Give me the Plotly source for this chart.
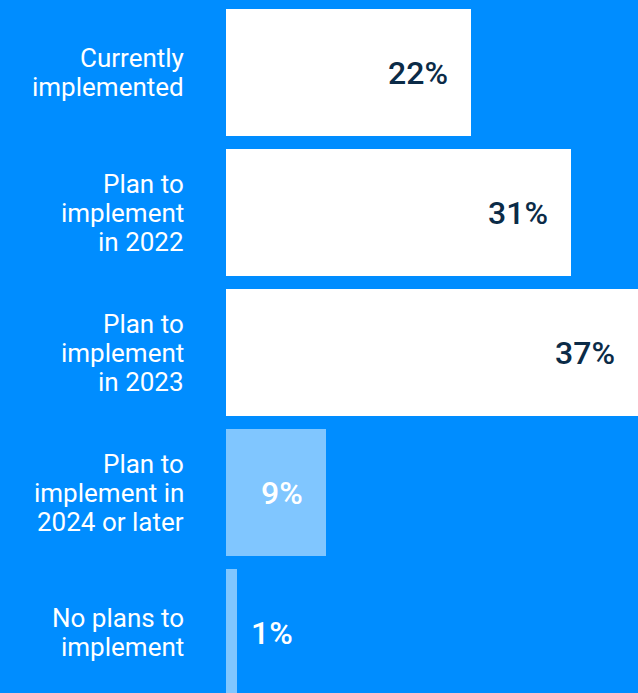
import plotly.graph_objects as go

categories = [
    "Currently<br>implemented",
    "Plan to<br>implement<br>in 2022",
    "Plan to<br>implement<br>in 2023",
    "Plan to<br>implement in<br>2024 or later",
    "No plans to<br>implement",
]
values = [22, 31, 37, 9, 1]
value_labels = ["22%", "31%", "37%", "9%", "1%"]

BG = "#008DFF"
WHITE = "#FFFFFF"
LIGHT = "#80C6FF"
NAVY = "#0B2B47"

bar_colors = [WHITE, WHITE, WHITE, LIGHT, LIGHT]
text_colors = [NAVY, NAVY, NAVY, WHITE, WHITE]

LINE_STEP = 29  # px between lines of a category label

fig = go.Figure(
    go.Bar(
        x=values,
        y=categories,
        orientation="h",
        marker=dict(color=bar_colors, line=dict(width=0)),
        width=0.907,
        hoverinfo="skip",
    )
)

# category labels, one annotation per line for tight line spacing
for cat in categories:
    lines = cat.split("<br>")
    n = len(lines)
    for i, line in enumerate(lines):
        fig.add_annotation(
            x=0,
            xref="paper",
            y=cat,
            yref="y",
            text=line,
            showarrow=False,
            xanchor="right",
            yanchor="middle",
            xshift=-40,
            yshift=((n - 1) / 2 - i) * LINE_STEP,
            font=dict(family="Roboto", size=26, color=WHITE),
        )

# value labels: inside near the bar end, or just outside for the tiny bar
for cat, v, lab, col in zip(categories, values, value_labels, text_colors):
    inside = v >= 5
    fig.add_annotation(
        x=v,
        y=cat,
        text=lab,
        showarrow=False,
        xanchor="right" if inside else "left",
        xshift=-21 if inside else 12,
        font=dict(family="Roboto", size=32, color=col, weight=500),
    )

fig.update_layout(
    width=638,
    height=693,
    margin=dict(l=226, r=0, t=0, b=0),
    paper_bgcolor=BG,
    plot_bgcolor=BG,
    showlegend=False,
    bargap=0,
)
fig.update_xaxes(
    range=[0, 37],
    visible=False,
    fixedrange=True,
)
fig.update_yaxes(
    type="category",
    range=[4.432, -0.518],
    showgrid=False,
    zeroline=False,
    showline=False,
    showticklabels=False,
    fixedrange=True,
)

fig.write_html("out.html", config={"displayModeBar": False})
